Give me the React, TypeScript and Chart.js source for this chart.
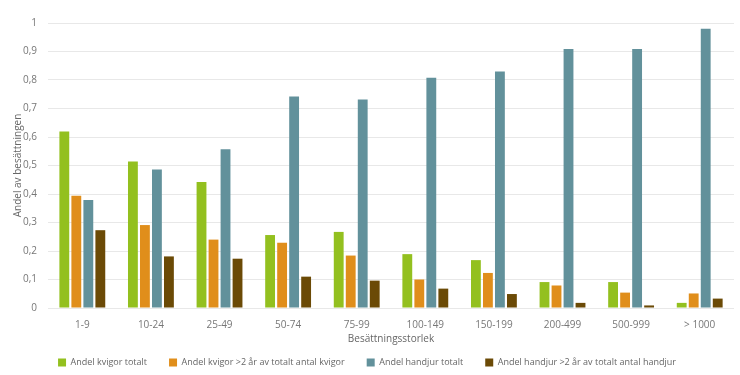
import React, { useEffect, useRef } from "react";
import { Chart, registerables } from "chart.js";

Chart.register(...registerables);

const categories = ["1-9", "10-24", "25-49", "50-74", "75-99", "100-149", "150-199", "200-499", "500-999", "> 1000"];
const kvigorTotalt = [0.619, 0.514, 0.442, 0.256, 0.267, 0.189, 0.168, 0.091, 0.091, 0.018];
const kvigorOver2 = [0.394, 0.291, 0.24, 0.229, 0.184, 0.1, 0.123, 0.079, 0.054, 0.051];
const handjurTotalt = [0.379, 0.486, 0.557, 0.742, 0.732, 0.808, 0.83, 0.909, 0.909, 0.98];
const handjurOver2 = [0.273, 0.181, 0.173, 0.11, 0.096, 0.068, 0.049, 0.018, 0.009, 0.033];
const seriesLabels = [
  "Andel kvigor totalt",
  "Andel kvigor >2 år av totalt antal kvigor",
  "Andel handjur totalt",
  "Andel handjur >2 år av totalt antal handjur",
];
const seriesColors = ["#93c01f", "#e08e1b", "#62919b", "#6b4a06"];

export default function App() {
  const ref = useRef<HTMLCanvasElement>(null);
  useEffect(() => {
    if (!ref.current) return;
    const font = { family: "'Open Sans', sans-serif", size: 10 };
    const legendFont = { family: "'Open Sans', sans-serif", size: 9 };
    const values = [kvigorTotalt, kvigorOver2, handjurTotalt, handjurOver2];
    const chart = new Chart(ref.current, {
      type: "bar",
      data: {
        labels: categories,
        datasets: values.map((v, i) => ({
          label: seriesLabels[i],
          data: v,
          backgroundColor: seriesColors[i],
          borderWidth: 0,
          categoryPercentage: 0.7,
          barPercentage: 0.82,
        })),
      },
      options: {
        responsive: false,
        animation: false,
        layout: { padding: { left: 0, right: 6, top: 23, bottom: -2 } },
        plugins: {
          tooltip: { enabled: false },
          legend: {
            position: "bottom",
            labels: {
              boxWidth: 8,
              boxHeight: 8,
              padding: 22,
              color: "#666",
              font: legendFont,
            },
          },
        },
        scales: {
          x: {
            grid: { display: false },
            border: { display: false },
            ticks: { color: "#777", font, padding: 3 },
            title: { display: true, text: "Besättningsstorlek", color: "#666", font, padding: { top: -1, bottom: -9 } },
          },
          y: {
            min: 0,
            max: 1,
            ticks: {
              stepSize: 0.1,
              color: "#777",
              font,
              padding: 11,
              callback: (v: any) => (Math.round(Number(v) * 10) / 10).toString().replace(".", ","),
            },
            grid: { color: "#e8e8e8", lineWidth: 1, drawTicks: false },
            border: { display: false },
            title: { display: true, text: "Andel av besättningen", color: "#666", font, padding: { top: 12, bottom: -12 } },
          },
        },
      },
    });
    return () => chart.destroy();
  }, []);
  return (
    <div style={{ position: "fixed", left: 0, top: 0, width: 740, height: 375, background: "#fff" }}>
      <canvas ref={ref} width={740} height={375} style={{ display: "block" }} />
    </div>
  );
}
